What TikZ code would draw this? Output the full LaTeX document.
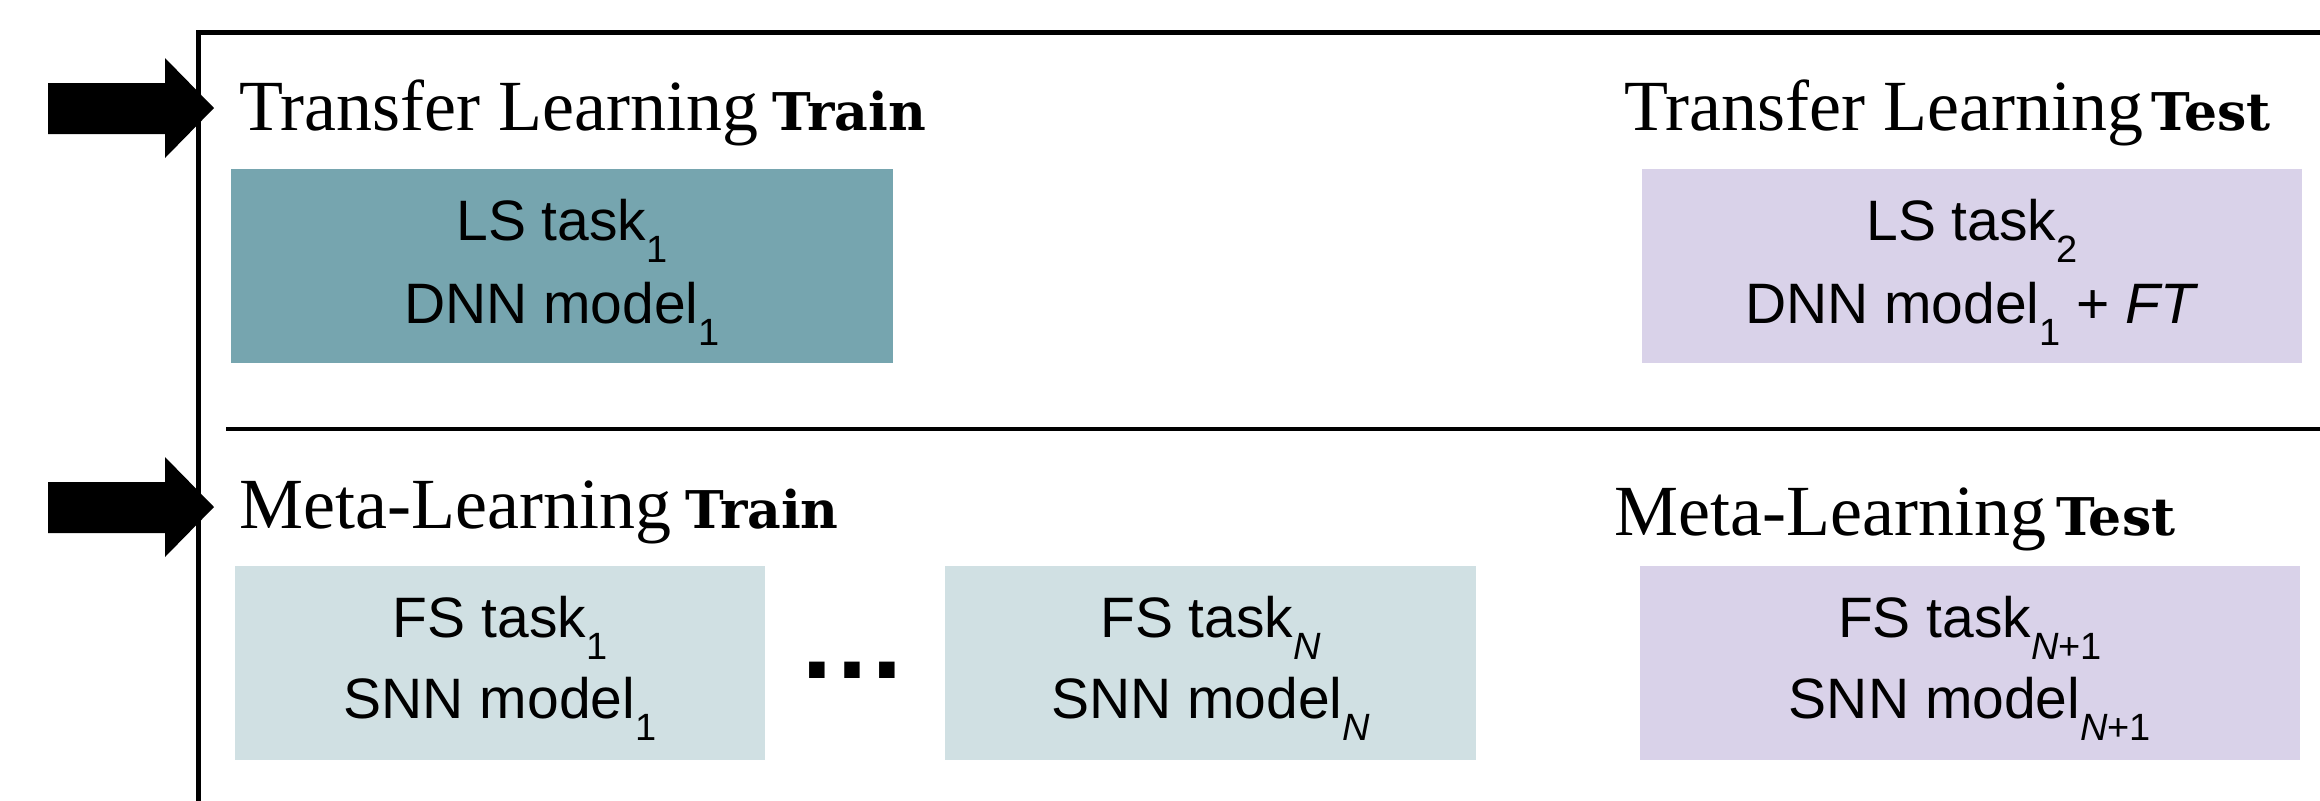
\documentclass[tikz,border=0pt]{standalone}
\usepackage{fontspec}
\setmainfont{Liberation Serif}
\setsansfont{Liberation Sans}
\newfontfamily\trfont{DejaVu Serif}
\definecolor{tealbox}{HTML}{76A5AF}
\definecolor{cyanbox}{HTML}{D0E0E3}
\definecolor{lilacbox}{HTML}{D9D2E9}
\newcommand{\sbx}[1]{\raisebox{-11pt}{\fontsize{19}{20}\selectfont #1}}
\newcommand{\bw}[1]{{\trfont\bfseries\fontsize{26}{28}\selectfont #1}}
\tikzset{
  boxnode/.style={draw=none, inner sep=0pt, outer sep=0pt, minimum height=97pt},
  txt/.style={inner sep=0pt, anchor=base, font=\sffamily\fontsize{28.5}{30}\selectfont},
  ttl/.style={inner sep=0pt, anchor=base west, font=\fontsize{36}{40}\selectfont},
  frameline/.style={line width=2.5pt, line join=miter},
  blockarrow/.style={fill=black}
}
\begin{document}
\begin{tikzpicture}[x=0.5pt, y=-0.5pt]
\useasboundingbox (0,0) rectangle (2320,800);
% frame
\draw[frameline] (2330,32) -- (198,32) -- (198,810);
\draw[line width=2.25pt] (226,429) -- (2330,429);
% arrows
\fill[blockarrow] (48,83) -- (165,83) -- (165,58) -- (214,108) -- (165,158) -- (165,134) -- (48,134) -- cycle;
\fill[blockarrow] (48,482) -- (165,482) -- (165,457) -- (214,507) -- (165,557) -- (165,533) -- (48,533) -- cycle;
% titles
\node[ttl] (t1) at (239,130) {Transfer Learning\hspace{7pt}\bw{Train}};
\node[ttl] (t2) at (1624,130) {Transfer Learning\hspace{4pt}\bw{Test}};
\node[ttl] (t3) at (239,528) {Meta-Learning\hspace{7pt}\bw{Train}};
\node[ttl] (t4) at (1614,535) {Meta-Learning\hspace{5pt}\bw{Test}};
% boxes row 1
\node[boxnode, fill=tealbox, minimum width=331pt] (b1) at (562,266) {};
\node[txt] (b1a) at (562,240) {LS task\sbx{1}};
\node[txt] (b1b) at (562,323) {DNN model\sbx{1}};
\node[boxnode, fill=lilacbox, minimum width=330pt] (b2) at (1972,266) {};
\node[txt] (b2a) at (1972,240) {LS task\sbx{2}};
\node[txt] (b2b) at (1972,323) {DNN model\sbx{1} + \textit{FT}};
% boxes row 2
\node[boxnode, fill=cyanbox, minimum width=265pt] (c1) at (500,663) {};
\node[txt] (c1a) at (500,637) {FS task\sbx{1}};
\node[txt] (c1b) at (500,718) {SNN model\sbx{1}};
\node[txt, font=\sffamily\bfseries\fontsize{55}{57}\selectfont] (dots) at (852,678) {…};
\node[boxnode, fill=cyanbox, minimum width=265.5pt] (c2) at (1210.5,663) {};
\node[txt] (c2a) at (1210.5,637) {FS task\sbx{\textit{N}}};
\node[txt] (c2b) at (1210.5,718) {SNN model\sbx{\textit{N}}};
\node[boxnode, fill=lilacbox, minimum width=330pt] (c3) at (1970,663) {};
\node[txt] (c3a) at (1970,637) {FS task\sbx{\textit{N}+1}};
\node[txt] (c3b) at (1970,718) {SNN model\sbx{\textit{N}+1}};
\end{tikzpicture}
\end{document}
